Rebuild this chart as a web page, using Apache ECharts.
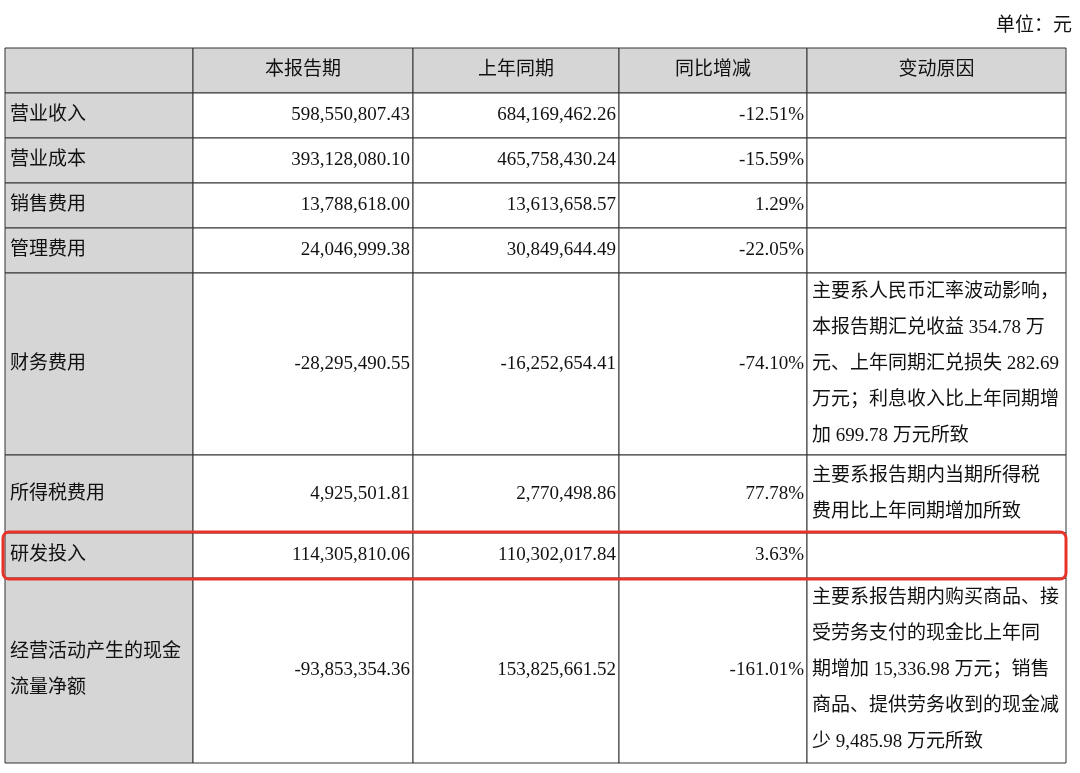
<!DOCTYPE html>
<html>
<head>
<meta charset="utf-8">
<script src="https://cdn.jsdelivr.net/npm/echarts@6/dist/echarts.min.js"></script>
<style>html,body{margin:0;padding:0;background:#fff}#main{width:1080px;height:773px}</style>
</head>
<body>
<div id="main"></div>
<script>
var headers = ['', '本报告期', '上年同期', '同比增减', '变动原因'];
var items = ['营业收入', '营业成本', '销售费用', '管理费用', '财务费用', '所得税费用', '研发投入', '经营活动产生的现金\n流量净额'];
var current = ['598,550,807.43', '393,128,080.10', '13,788,618.00', '24,046,999.38', '-28,295,490.55', '4,925,501.81', '114,305,810.06', '-93,853,354.36'];
var lastYear = ['684,169,462.26', '465,758,430.24', '13,613,658.57', '30,849,644.49', '-16,252,654.41', '2,770,498.86', '110,302,017.84', '153,825,661.52'];
var change = ['-12.51%', '-15.59%', '1.29%', '-22.05%', '-74.10%', '77.78%', '3.63%', '-161.01%'];
var reasons = ['', '', '', '',
  '主要系人民币汇率波动影响，\n本报告期汇兑收益 354.78 万\n元、上年同期汇兑损失 282.69\n万元；利息收入比上年同期增\n加 699.78 万元所致',
  '主要系报告期内当期所得税\n费用比上年同期增加所致',
  '',
  '主要系报告期内购买商品、接\n受劳务支付的现金比上年同\n期增加 15,336.98 万元；销售\n商品、提供劳务收到的现金减\n少 9,485.98 万元所致'];
var highlighted = 6;

// layout (pixel space mapped through hidden value axes)
var colX = [5, 193, 413, 619, 807, 1066];
var rowY = [48, 93, 138, 183, 228, 273, 455, 533, 578, 763];
var font = '"Liberation Serif", "Noto Sans CJK SC", serif';

var dom = document.getElementById('main');
var myChart = echarts.init(dom);

function cellRect(api, c, r) {
  var p0 = api.coord([colX[c], rowY[r]]);
  var p1 = api.coord([colX[c + 1], rowY[r + 1]]);
  return { x: p0[0], y: p0[1], width: p1[0] - p0[0], height: p1[1] - p0[1] };
}

function renderRow(params, api) {
  var r = api.value(0);
  var children = [];
  var texts;
  if (r === 0) texts = headers;
  else {
    var i = r - 1;
    texts = [items[i], current[i], lastYear[i], change[i], reasons[i]];
  }
  for (var c = 0; c < 5; c++) {
    var rc = cellRect(api, c, r);
    var gray = (r === 0 || c === 0);
    children.push({
      type: 'rect', shape: rc,
      style: { fill: gray ? '#d6d6d6' : '#fff', stroke: '#333', lineWidth: 1 }
    });
    var align, tx;
    if (r === 0) { align = 'center'; tx = rc.x + rc.width / 2; }
    else if (c === 0 || c === 4) { align = 'left'; tx = rc.x + 5; }
    else { align = 'right'; tx = rc.x + rc.width - 3; }
    children.push({
      type: 'text',
      style: {
        text: texts[c], x: tx, y: rc.y + rc.height / 2,
        align: align, verticalAlign: 'middle',
        font: '19px ' + font, fill: '#111', lineHeight: 36
      }
    });
  }
  if (r - 1 === highlighted) {
    var a = api.coord([3, rowY[r] - 1]);
    var b = api.coord([1066, rowY[r + 1] + 1]);
    children.push({
      type: 'rect',
      shape: { x: a[0], y: a[1], width: b[0] - a[0], height: b[1] - a[1], r: 6 },
      style: { fill: 'none', stroke: '#e8332a', lineWidth: 3 }
    });
  }
  return { type: 'group', children: children };
}

var rowsData = [];
for (var k = 0; k <= items.length; k++) rowsData.push([k]);

var option = {
  animation: false,
  grid: { left: 0, right: 0, top: 0, bottom: 0 },
  xAxis: { type: 'value', min: 0, max: 1080, show: false },
  yAxis: { type: 'value', min: 0, max: 773, inverse: true, show: false },
  graphic: [{
    type: 'text', right: 8, top: 17,
    style: { text: '单位：元', font: '19px ' + font, fill: '#111' }
  }],
  series: [{
    type: 'custom',
    renderItem: function (params, api) {
      // draw highlighted row last so the red frame sits on top
      return renderRow(params, api);
    },
    data: rowsData.slice(0, highlighted + 1).concat(rowsData.slice(highlighted + 2), [rowsData[highlighted + 1]]),
    encode: { x: 0, y: 0 }
  }]
};

if (option && typeof option === 'object') {
  myChart.setOption(option);
}
</script>
</body>
</html>
